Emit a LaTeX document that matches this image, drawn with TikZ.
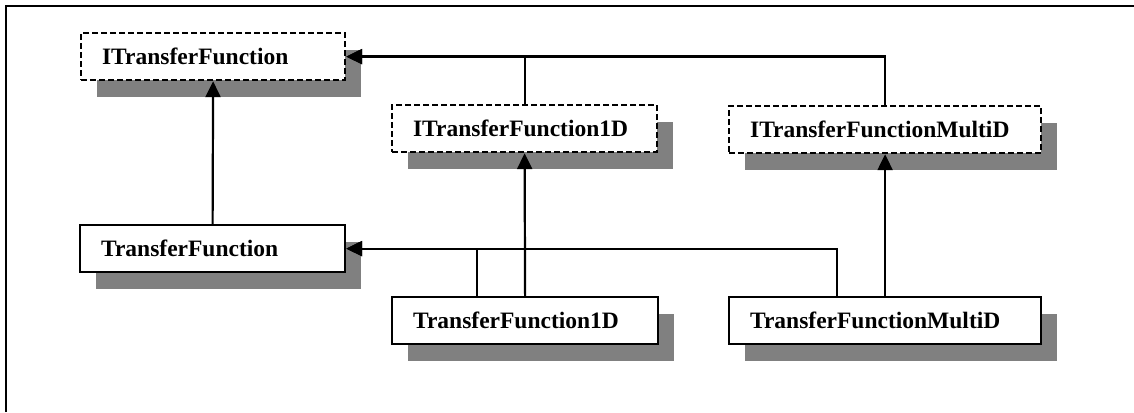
\documentclass[tikz,border=0pt]{standalone}
\usepackage{fontspec}
\setmainfont{Liberation Serif}
\usetikzlibrary{arrows.meta,shadows,calc}

\tikzset{
  classbox/.style={
    draw, fill=white, line width=2.2pt, rectangle, anchor=north west,
    inner xsep=21pt, inner ysep=0pt, minimum height=47pt,
    align=left, font=\fontsize{23.5}{28}\selectfont\bfseries,
    drop shadow={shadow xshift=16pt, shadow yshift=-17pt, fill=black!50, opacity=1}
  },
  ifacebox/.style={classbox, dash pattern=on 6pt off 3pt},
  inherit/.style={line width=2.2pt, -{Triangle[length=16pt,width=15pt]}},
  link/.style={line width=2.2pt}
}

\begin{document}
\begin{tikzpicture}[x=1pt,y=-1pt]
  \useasboundingbox (0,0) rectangle (1134,412);

  % outer frame (top and left edges)
  \draw[line width=2.4pt] (6,412) -- (6,6) -- (1134,6);

  % interfaces
  \node[ifacebox, text width=222pt] (itf)   at (80,32)   {ITransferFunction};
  \node[ifacebox, text width=223pt] (itf1d) at (391,104) {ITransferFunction1D};
  \node[ifacebox, text width=270pt] (itfm)  at (728,105) {ITransferFunctionMultiD};

  % implementations
  \node[classbox, text width=223pt] (tf)   at (79,224)  {TransferFunction};
  \node[classbox, text width=224pt] (tf1d) at (391,296) {TransferFunction1D};
  \node[classbox, text width=270pt] (tfm)  at (728,296) {TransferFunctionMultiD};

  % interface inheritance
  \draw[inherit] (itf1d.north) |- (itf.east);
  \draw[inherit] (itfm.north) |- (itf.east);
  \draw[inherit] (tf.north) -- (itf.south);

  % implementations realise their interfaces
  \draw[inherit] (tf1d.north) -- (itf1d.south);
  \draw[inherit] (tfm.north) -- (itfm.south);

  % implementations derive from TransferFunction
  \coordinate (tf1dup) at ($(tf1d.north)+(-48,0)$);
  \coordinate (tfmup)  at ($(tfm.north)+(-48,0)$);
  \draw[inherit] (tf1dup) |- (tf.east);
  \draw[inherit] (tfmup) |- (tf.east);
\end{tikzpicture}
\end{document}
